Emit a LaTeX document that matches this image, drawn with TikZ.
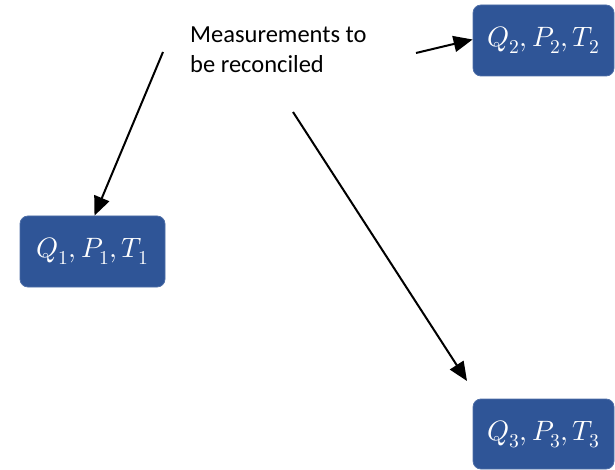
\documentclass[tikz,border=0pt]{standalone}
\usepackage{fontspec}
\setmainfont{Carlito}
\usepackage{unicode-math}
\setmathfont{Latin Modern Math}
\usetikzlibrary{arrows.meta}
\definecolor{boxblue}{RGB}{47,85,151}
\begin{document}
\begin{tikzpicture}[x=1pt,y=-1pt,
  valbox/.style={draw=boxblue!85!white, fill=boxblue, rounded corners=8pt, line width=0.8pt,
    text=white, font=\fontsize{28}{30}\selectfont, inner sep=0pt},
  conn/.style={line width=2pt, -{Triangle[length=19pt,width=16pt]}}]
\useasboundingbox (0,0) rectangle (615,470);
\node[valbox, minimum width=145pt, minimum height=71pt] (b1) at (92.5,251.5) {$Q_1, P_1, T_1$};
\node[valbox, minimum width=141pt, minimum height=71pt] (b2) at (543.5,40.5) {$Q_2, P_2, T_2$};
\node[valbox, minimum width=141pt, minimum height=70pt] (b3) at (543.5,434) {$Q_3, P_3, T_3$};
\node[anchor=base west, align=left, inner sep=0pt, text=black,
  font=\fontsize{24.5}{30}\selectfont] (lbl) at (190,73) {Measurements to\\be reconciled};
\coordinate (s1) at (163,52);
\coordinate (s2) at (416,53);
\coordinate (s3) at (293,112);
\coordinate (e3) at (467,381);
\draw[conn] (s1) -- ([xshift=2pt]b1.north);
\draw[conn] (s2) -- ([yshift=1pt]b2.west);
\draw[conn] (s3) -- (e3);
\end{tikzpicture}
\end{document}
